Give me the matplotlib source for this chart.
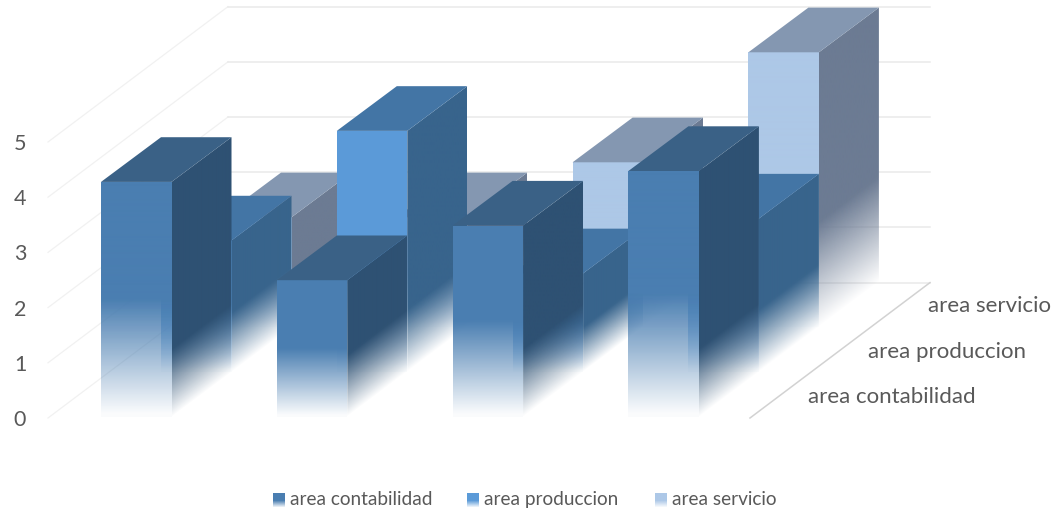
#!/usr/bin/env python3

import numpy as np
import matplotlib
matplotlib.use('Agg')
import matplotlib.pyplot as plt
from matplotlib.colors import to_rgb
from matplotlib.patches import Polygon

plt.rcParams['font.family'] = ['Lato', 'DejaVu Sans']

series_names = ['area contabilidad', 'area produccion', 'area servicio']
contabilidad = [4.3, 2.5, 3.5, 4.5]
produccion = [2.4, 4.4, 1.8, 2.8]
servicio = [2, 2, 3, 5]
y_ticks = [0, 1, 2, 3, 4, 5]

# front, top, side
front_colors = ['#4A7EB1', '#5B9BD8', '#ADC8E7']
top_colors = ['#3A6186', '#4375A5', '#8497B1']
side_colors = ['#2E5173', '#38648C', '#6C7B93']
side_fade = [68, 62, 105]

# oblique projection, all in figure pixels
x0 = 101
y0 = 416.7
cat_step = 175.8
bar_w = 70.5
depth_dx = 60
depth_dy = 44.7
wall_unit = 55.2


def project(x, depth, value):
    # the front of the box is drawn a touch smaller than the back wall
    unit = 54.6 + 0.2 * depth
    return x + depth * depth_dx, y0 - value * unit - depth * depth_dy


def fade_face(ax, pts, color, dist_func, fade_len, zorder, floor=0.0):
    # face with a colour that goes transparent towards the floor
    pts = np.array(pts)
    xa, xb = pts[:, 0].min(), pts[:, 0].max()
    ya, yb = pts[:, 1].min(), pts[:, 1].max()
    xs = np.arange(xa, xb + 0.5, 0.5)
    ys = np.arange(ya, yb + 0.5, 0.5)
    xx, yy = np.meshgrid(xs, ys)
    alpha = np.clip(dist_func(xx, yy) / fade_len, floor, 1)
    rgba = np.zeros(xx.shape + (4,))
    rgba[..., :3] = to_rgb(color)
    rgba[..., 3] = alpha
    im = ax.imshow(rgba, extent=(xa, xb, yb, ya), origin='upper',
                   interpolation='bilinear', aspect='auto', zorder=zorder)
    clip = Polygon(pts, closed=True, transform=ax.transData)
    im.set_clip_path(clip)


def draw_bar(ax, cat, depth, value, s, zorder):
    left = x0 + cat * cat_step
    right = left + bar_w
    bl = project(left, depth, 0)
    br = project(right, depth, 0)
    tl = project(left, depth, value)
    tr = project(right, depth, value)
    h = bl[1] - tl[1]
    br2 = (br[0] + depth_dx, br[1] - depth_dy)
    tr2 = (tr[0] + depth_dx, tr[1] - depth_dy)
    tl2 = (tl[0] + depth_dx, tl[1] - depth_dy)

    fade_face(ax, [bl, br, tr, tl], front_colors[s],
              lambda xx, yy: bl[1] - yy, 0.5 * h, zorder, floor=0.03)

    slope = (br2[1] - br[1]) / (br2[0] - br[0])
    fade_face(ax, [br, br2, tr2, tr], side_colors[s],
              lambda xx, yy: br[1] + (xx - br[0]) * slope - yy,
              min(side_fade[s], 0.45 * h), zorder + 0.1)

    ax.add_patch(Polygon([tl, tr, tr2, tl2], closed=True, facecolor=top_colors[s],
                         edgecolor='none', zorder=zorder + 0.2))


if __name__ == "__main__":
    fig = plt.figure(figsize=(10.59, 5.15), dpi=100)
    ax = fig.add_axes([0, 0, 1, 1])
    ax.set_xlim(0, 1059)
    ax.set_ylim(515, 0)
    ax.axis('off')

    # walls
    wall_x = 48
    wall_right = 750
    for v in y_ticks:
        ya = 418 - v * wall_unit
        yb = 282.6 - v * wall_unit
        ax.plot([wall_x, wall_x + 180], [ya, yb], color='#F1F1F1', lw=0.9, zorder=1)
        ax.plot([wall_x + 180, wall_right + 180], [yb, yb], color='#E9E9E9', lw=1.1, zorder=1)
        ax.text(20, ya + 2, str(v), ha='center', va='center', fontsize=15.5, color='#595959')
    ax.plot([wall_right, wall_right + 180], [418, 282.6], color='#D2D2D2', lw=1.1, zorder=1)

    # depth labels
    for d, name in enumerate(series_names):
        lx = 808 + d * depth_dx
        ly = 397 - d * 45.5
        ax.text(lx, ly, name, ha='left', va='center', fontsize=16, color='#595959')

    # bars, back row first
    all_series = [contabilidad, produccion, servicio]
    for s in [2, 1, 0]:
        for c, val in enumerate(all_series[s]):
            draw_bar(ax, c, s, val, s, zorder=10 + (2 - s) * 2 + c * 0.01)

    # legend
    leg_x = [273, 467, 655]
    for s, name in enumerate(series_names):
        grad = np.zeros((14, 1, 4))
        grad[..., :3] = to_rgb(front_colors[s])
        grad[:, 0, 3] = np.clip((14 - np.arange(14)) / 7, 0.1, 1)
        ax.imshow(grad, extent=(leg_x[s], leg_x[s] + 12, 507, 493), aspect='auto',
                  interpolation='bilinear', zorder=5)
        ax.text(leg_x[s] + 16.5, 499.5, name, ha='left', va='center', fontsize=13.7, color='#595959')

    ax.set_xlim(0, 1059)
    ax.set_ylim(515, 0)
    fig.savefig('out.png', dpi=100)
